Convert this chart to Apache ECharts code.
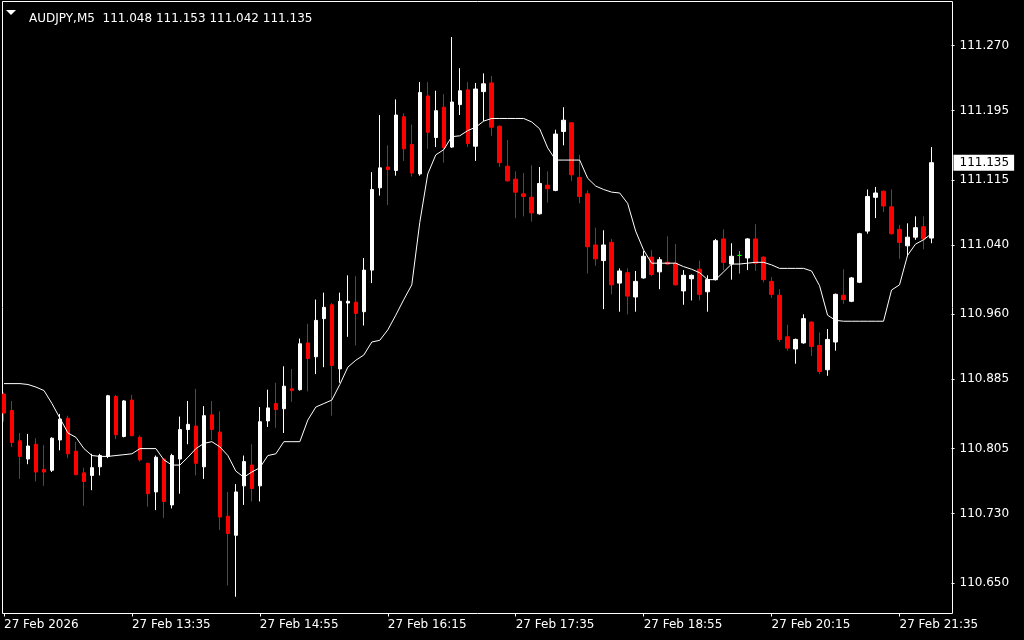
<!DOCTYPE html>
<html>
<head>
<meta charset="utf-8">
<title>AUDJPY,M5</title>
<script src="https://cdn.jsdelivr.net/npm/echarts@6/dist/echarts.min.js"></script>
<style>
  html, body { margin: 0; padding: 0; background: #000; }
  #chart { width: 1024px; height: 640px; }
</style>
</head>
<body>
<div id="chart"></div>
<script>
// AUDJPY M5, 27 Feb 2026, bars from 12:15 to 21:55
const symbol = 'AUDJPY,M5';

const opens = [
  110.868, 110.849, 110.814, 110.793, 110.810, 110.781, 110.780, 110.815, 110.840, 110.802,
  110.777, 110.774, 110.784, 110.796, 110.865, 110.819, 110.861, 110.818, 110.788, 110.755,
  110.793, 110.740, 110.793, 110.827, 110.831, 110.784, 110.844, 110.824, 110.727, 110.705,
  110.762, 110.786, 110.762, 110.837, 110.857, 110.851, 110.874, 110.873, 110.927, 110.911,
  110.955, 110.971, 110.897, 110.973, 110.974, 110.963, 111.011, 111.106, 111.130, 111.126,
  111.188, 111.156, 111.122, 111.212, 111.164, 111.199, 111.153, 111.202, 111.219, 111.154,
  111.217, 111.227, 111.177, 111.131, 111.116, 111.099, 111.095, 111.076, 111.109, 111.103,
  111.171, 111.181, 111.118, 111.099, 111.040, 111.022, 111.043, 110.996, 111.008, 110.980,
  111.002, 111.026, 111.009, 111.020, 111.019, 110.987, 111.001, 111.012, 110.986, 111.000,
  111.047, 111.018, 111.028, 111.025, 111.047, 111.026, 110.998, 110.982, 110.934, 110.920,
  110.927, 110.951, 110.924, 110.896, 110.928, 110.982, 110.975, 110.997, 111.056, 111.095,
  111.102, 111.084, 111.058, 111.039, 111.049, 111.061, 111.048
];
const closes = [
  110.846, 110.812, 110.796, 110.808, 110.778, 110.778, 110.817, 110.839, 110.799, 110.775,
  110.767, 110.783, 110.797, 110.866, 110.821, 110.860, 110.820, 110.792, 110.753, 110.795,
  110.744, 110.797, 110.827, 110.833, 110.788, 110.843, 110.827, 110.726, 110.707, 110.755,
  110.790, 110.759, 110.836, 110.852, 110.850, 110.877, 110.872, 110.926, 110.909, 110.953,
  110.968, 110.901, 110.975, 110.975, 110.961, 111.011, 111.104, 111.129, 111.127, 111.190,
  111.151, 111.123, 111.216, 111.170, 111.195, 111.152, 111.205, 111.218, 111.157, 111.220,
  111.226, 111.176, 111.135, 111.114, 111.101, 111.096, 111.077, 111.111, 111.105, 111.168,
  111.184, 111.121, 111.096, 111.038, 111.024, 111.040, 110.994, 111.010, 110.981, 110.998,
  111.027, 111.006, 111.023, 111.018, 110.994, 111.005, 111.005, 110.983, 111.000, 111.045,
  111.020, 111.027, 111.028, 111.047, 111.019, 111.000, 110.983, 110.931, 110.921, 110.931,
  110.955, 110.923, 110.894, 110.931, 110.983, 110.977, 111.002, 111.053, 111.096, 111.100,
  111.085, 111.053, 111.043, 111.049, 111.060, 111.047, 111.135
];
const lows = [
  110.836, 110.807, 110.770, 110.787, 110.767, 110.762, 110.778, 110.803, 110.794, 110.774,
  110.739, 110.757, 110.774, 110.794, 110.816, 110.818, 110.819, 110.790, 110.738, 110.734,
  110.725, 110.736, 110.753, 110.810, 110.774, 110.770, 110.815, 110.711, 110.647, 110.634,
  110.740, 110.744, 110.744, 110.830, 110.829, 110.823, 110.859, 110.872, 110.871, 110.891,
  110.899, 110.843, 110.881, 110.934, 110.924, 110.947, 110.996, 111.097, 111.086, 111.120,
  111.137, 111.119, 111.120, 111.151, 111.153, 111.135, 111.152, 111.190, 111.153, 111.137,
  111.183, 111.166, 111.130, 111.113, 111.071, 111.073, 111.067, 111.075, 111.089, 111.102,
  111.155, 111.114, 111.088, 111.007, 111.016, 110.966, 110.983, 110.963, 110.960, 110.963,
  111.001, 111.004, 110.989, 111.017, 110.993, 110.971, 110.976, 110.976, 110.963, 110.999,
  111.011, 111.000, 111.007, 111.011, 111.010, 110.997, 110.979, 110.928, 110.918, 110.903,
  110.926, 110.912, 110.891, 110.889, 110.918, 110.972, 110.974, 110.996, 111.053, 111.071,
  111.078, 111.052, 111.024, 111.027, 111.046, 111.035, 111.042
];
const highs = [
  110.870, 110.860, 110.823, 110.822, 110.817, 110.809, 110.818, 110.845, 110.843, 110.813,
  110.783, 110.799, 110.799, 110.867, 110.867, 110.861, 110.867, 110.820, 110.789, 110.797,
  110.794, 110.799, 110.842, 110.860, 110.874, 110.854, 110.860, 110.848, 110.755, 110.764,
  110.797, 110.810, 110.853, 110.873, 110.881, 110.900, 110.897, 110.932, 110.949, 110.977,
  110.985, 110.973, 110.985, 111.005, 111.004, 111.025, 111.124, 111.190, 111.155, 111.208,
  111.192, 111.179, 111.228, 111.228, 111.218, 111.214, 111.280, 111.244, 111.228, 111.227,
  111.238, 111.235, 111.178, 111.161, 111.125, 111.123, 111.132, 111.130, 111.125, 111.173,
  111.199, 111.182, 111.144, 111.103, 111.060, 111.057, 111.047, 111.013, 111.013, 111.010,
  111.033, 111.034, 111.026, 111.050, 111.041, 111.011, 111.006, 111.022, 111.005, 111.047,
  111.058, 111.042, 111.033, 111.048, 111.064, 111.027, 111.003, 110.989, 110.948, 110.932,
  110.960, 110.952, 110.939, 110.943, 110.984, 111.012, 111.003, 111.054, 111.104, 111.107,
  111.103, 111.104, 111.063, 111.065, 111.073, 111.073, 111.153
];
// white indicator line
const midLine = [
  110.880, 110.880, 110.880, 110.879, 110.876, 110.872, 110.857, 110.840, 110.823, 110.818,
  110.805, 110.797, 110.796, 110.796, 110.797, 110.798, 110.799, 110.805, 110.805, 110.805,
  110.792, 110.786, 110.786, 110.795, 110.805, 110.811, 110.813, 110.807, 110.797, 110.779,
  110.772, 110.778, 110.783, 110.797, 110.799, 110.813, 110.813, 110.813, 110.838, 110.853,
  110.857, 110.861, 110.879, 110.899, 110.907, 110.913, 110.928, 110.930, 110.942, 110.959,
  110.977, 110.994, 111.066, 111.122, 111.144, 111.150, 111.165, 111.166, 111.172, 111.176,
  111.183, 111.186, 111.186, 111.186, 111.186, 111.186, 111.182, 111.174, 111.152, 111.138,
  111.138, 111.138, 111.138, 111.117, 111.108, 111.104, 111.101, 111.100, 111.088, 111.056,
  111.034, 111.019, 111.019, 111.019, 111.019, 111.015, 111.012, 111.008, 111.000, 111.000,
  111.009, 111.018, 111.018, 111.019, 111.020, 111.020, 111.017, 111.013, 111.013, 111.013,
  111.013, 111.010, 110.993, 110.959, 110.953, 110.952, 110.952, 110.952, 110.952, 110.952,
  110.952, 110.988, 110.994, 111.028, 111.041, 111.046, 111.053
];

const priceTicks = [111.270, 111.195, 111.115, 111.040, 110.960, 110.885, 110.805, 110.730, 110.650];
const timeTickIdx = [0, 16, 32, 48, 64, 80, 96, 112];
const timeTickText = ['27 Feb 2026', '27 Feb 13:35', '27 Feb 14:55', '27 Feb 16:15',
  '27 Feb 17:35', '27 Feb 18:55', '27 Feb 20:15', '27 Feb 21:35'];

// bar times, plus two empty slots as right margin
const times = [];
for (let i = 0; i < opens.length; i++) {
  const m = 12 * 60 + 15 + 5 * i;
  times.push(String(Math.floor(m / 60)).padStart(2, '0') + ':' + String(m % 60).padStart(2, '0'));
}
times.push('', '');

const candles = opens.map((o, i) => [o, closes[i], lows[i], highs[i]]);
const last = opens.length - 1;
const lastPrice = closes[last];
const font = 'DejaVu Sans';

const chart = echarts.init(document.getElementById('chart'));
chart.setOption({
  backgroundColor: '#000',
  animation: false,
  title: {
    text: symbol + '  ' + [opens[last], highs[last], lows[last], closes[last]].map(v => v.toFixed(3)).join(' '),
    left: 24,
    top: 8,
    textStyle: { color: '#fff', fontSize: 12, fontWeight: 'normal', fontFamily: font }
  },
  graphic: [
    {
      type: 'rect',
      shape: { x: 2.5, y: 1.5, width: 950, height: 612 },
      style: { fill: 'none', stroke: '#fff', lineWidth: 1 },
      silent: true
    },
    {
      type: 'polygon',
      shape: { points: [[6, 10], [16, 10], [11, 15]] },
      style: { fill: '#fff' },
      silent: true
    }
  ],
  grid: { left: -0.5, right: 72.5, top: 1.5, bottom: 26.5 },
  xAxis: {
    type: 'category',
    data: times,
    boundaryGap: true,
    axisLine: { show: false },
    axisTick: { show: true, alignWithLabel: true, interval: 15, length: 3, lineStyle: { color: '#fff' } },
    axisLabel: {
      interval: 15,
      align: 'left',
      margin: 5,
      color: '#fff',
      fontSize: 12,
      fontFamily: font,
      formatter: (v, i) => {
        const k = timeTickIdx.indexOf(i);
        return k >= 0 ? timeTickText[k] : '';
      }
    },
    splitLine: { show: false }
  },
  yAxis: {
    type: 'value',
    position: 'right',
    min: 110.6147,
    max: 111.3210,
    axisLine: { show: false },
    splitLine: { show: false },
    axisTick: { show: true, length: 3, lineStyle: { color: '#fff' }, customValues: priceTicks },
    axisLabel: {
      customValues: priceTicks,
      formatter: v => v.toFixed(3),
      color: '#fff',
      fontSize: 12,
      fontFamily: font,
      margin: 8
    }
  },
  series: [
    {
      type: 'candlestick',
      data: candles,
      barWidth: 4,
      itemStyle: {
        color: '#ffffff',
        borderColor: '#ffffff',
        color0: '#ff0000',
        borderColor0: '#ff0000',
        borderColorDoji: '#00ff00',
        borderWidth: 1
      },
      markLine: {
        silent: true,
        symbol: ['none', 'none'],
        precision: 3,
        data: [{ yAxis: lastPrice }],
        lineStyle: { color: 'rgba(0,0,0,0)', width: 1 },
        label: {
          show: true,
          position: 'end',
          distance: 2,
          formatter: () => lastPrice.toFixed(3),
          color: '#000',
          backgroundColor: '#fff',
          padding: [2, 5, 2, 6],
          fontSize: 12,
          fontFamily: font
        }
      }
    },
    {
      type: 'line',
      data: midLine,
      symbol: 'none',
      lineStyle: { color: '#fff', width: 1 },
      z: 3
    }
  ]
});
</script>
</body>
</html>
